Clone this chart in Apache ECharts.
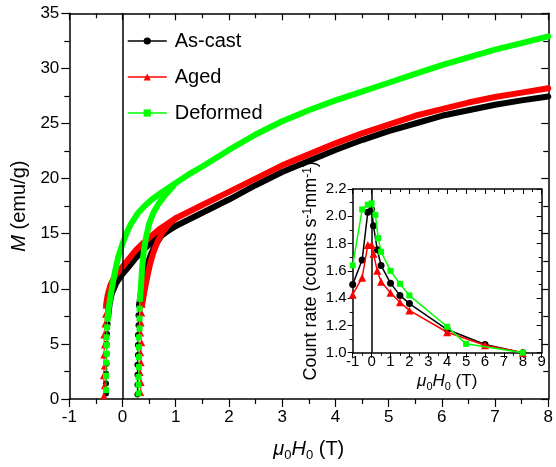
<!DOCTYPE html>
<html>
<head>
<meta charset="utf-8">
<script src="https://cdn.jsdelivr.net/npm/echarts@6/dist/echarts.min.js"></script>
<style>
  html, body { margin: 0; padding: 0; background: #fff; }
  #chart { width: 556px; height: 467px; }
</style>
</head>
<body>
<div id="chart"></div>
<script>
// Magnetisation loops, M (emu/g) vs applied field (T)
// As-cast
const asCastLeftSteep = [[-0.31,0.5],[-0.31,1.4],[-0.31,2.3],[-0.30,3.2],[-0.30,4.1],[-0.30,5.0],[-0.29,5.9],[-0.28,6.8],[-0.27,7.5]];
const asCastUpper = [[-0.27,7.5],[-0.24,8.7],[-0.20,9.6],[-0.12,10.5],[-0.05,11.0],[0,11.35],[0.1,11.9],[0.25,12.8],[0.4,13.6],[0.69,14.76],[1.0,15.7],[1.5,16.9],[2.0,18.1],[2.5,19.4],[3.0,20.6],[3.5,21.6],[4.0,22.6],[4.5,23.5],[5.0,24.3],[5.5,25.0],[6.0,25.7],[6.5,26.2],[7.0,26.7],[7.5,27.1],[8.0,27.45]];
const asCastRightSteep = [[0.28,0.4],[0.28,1.3],[0.28,2.2],[0.28,3.1],[0.29,4.0],[0.29,4.9],[0.29,5.8],[0.30,6.7],[0.30,7.6],[0.31,8.5]];
const asCastRightUpper = [[0.31,8.5],[0.35,9.8],[0.40,11.0],[0.46,12.1],[0.53,13.1],[0.62,14.0],[0.73,14.8],[0.86,15.3],[1.0,15.7]];
// Aged
const agedLeftSteep = [[-0.35,0.3],[-0.34,1.2],[-0.36,2.1],[-0.34,3.0],[-0.35,4.0],[-0.34,4.9],[-0.35,5.8],[-0.33,6.8],[-0.32,7.7],[-0.31,8.5]];
const agedUpper = [[-0.31,8.5],[-0.28,9.4],[-0.23,10.3],[-0.15,11.1],[-0.07,11.6],[0,12.0],[0.1,12.6],[0.25,13.5],[0.4,14.2],[0.69,15.4],[1.0,16.4],[1.5,17.6],[2.0,18.8],[2.5,20.0],[3.0,21.2],[3.5,22.2],[4.0,23.2],[4.5,24.1],[5.0,24.9],[5.5,25.7],[6.0,26.3],[6.5,26.9],[7.0,27.4],[7.5,27.8],[8.0,28.2]];
const agedRightSteep = [[0.34,0.6],[0.35,1.5],[0.33,2.4],[0.35,3.3],[0.34,4.2],[0.36,5.1],[0.34,6.0],[0.35,6.9],[0.36,7.8],[0.37,8.6]];
const agedRightUpper = [[0.37,8.6],[0.42,10.0],[0.47,11.2],[0.52,12.3],[0.58,13.3],[0.66,14.3],[0.76,15.2],[0.88,15.9],[1.0,16.4]];
// Deformed
const deformedLeftSteep = [[-0.31,0.8],[-0.31,2.1],[-0.31,3.3],[-0.30,4.1],[-0.30,4.9],[-0.30,5.6],[-0.29,6.5],[-0.28,7.3]];
const deformedUpper = [[-0.28,7.3],[-0.26,8.2],[-0.23,9.2],[-0.18,10.6],[-0.13,11.8],[-0.08,12.9],[0,14.1],[0.08,15.1],[0.16,15.9],[0.28,16.8],[0.41,17.5],[0.55,18.1],[0.72,18.7],[1.0,19.6],[1.25,20.4],[1.5,21.1],[2.0,22.6],[2.5,24.0],[3.0,25.2],[3.5,26.2],[4.0,27.1],[4.5,27.9],[5.0,28.7],[5.5,29.5],[6.0,30.3],[6.5,31.0],[7.0,31.7],[7.5,32.3],[8.0,32.9]];
const deformedRightSteep = [[0.30,0.5],[0.30,1.3],[0.30,2.0],[0.31,2.9],[0.31,3.8],[0.31,4.7],[0.31,5.6],[0.32,6.4],[0.32,7.3],[0.32,8.2],[0.33,9.1]];
const deformedRightUpper = [[0.33,9.1],[0.35,10.5],[0.37,12.0],[0.40,13.4],[0.44,14.6],[0.50,15.9],[0.58,16.9],[0.69,17.8],[0.80,18.5],[0.95,19.3]];

// Inset: count rate (counts s^-1 mm^-1) vs field (T)
const insetAsCastField = [-1,-0.5,-0.2,0,0.1,0.3,0.5,1,1.5,2,4,6,8];
const insetAsCastRate  = [1.50,1.68,2.03,2.05,1.93,1.755,1.64,1.51,1.42,1.36,1.17,1.06,1.00];
const insetAgedField = [-1,-0.5,-0.2,0,0.1,0.3,0.5,1,1.5,2,4,6,8];
const insetAgedRate  = [1.425,1.55,1.79,1.79,1.725,1.60,1.52,1.44,1.37,1.31,1.15,1.055,1.00];
const insetDeformedField = [-1,-0.5,-0.2,0,0.2,0.35,0.5,1,1.5,2,4,5,8];
const insetDeformedRate  = [1.64,2.05,2.085,2.095,2.01,1.84,1.74,1.60,1.505,1.42,1.19,1.065,1.00];

const sampleNames = ['As-cast', 'Aged', 'Deformed'];
const sampleColors = ['#000000', '#ff0000', '#00ff00'];
const sampleSymbols = ['circle', 'triangle', 'rect'];
const sampleSymbolSizes = [6, 7, 6];
const insetSymbolSizes = [7, 8, 6];

const FONT = "'Liberation Sans', Arial, sans-serif";

const mainSets = [
  [asCastLeftSteep, asCastUpper, asCastRightSteep, asCastRightUpper],
  [agedLeftSteep, agedUpper, agedRightSteep, agedRightUpper],
  [deformedLeftSteep, deformedUpper, deformedRightSteep, deformedRightUpper]
];
const insetSets = [
  [insetAsCastField, insetAsCastRate],
  [insetAgedField, insetAgedRate],
  [insetDeformedField, insetDeformedRate]
];

const zeroLine = {
  silent: true, symbol: 'none', label: { show: false },
  lineStyle: { color: '#000', width: 1.5, type: 'solid' },
  data: [{ xAxis: 0 }]
};

const series = [];
mainSets.forEach((set, i) => {
  const [leftSteep, upper, rightSteep, rightUpper] = set;
  const markerSeries = (data) => ({
    type: 'line', name: sampleNames[i], xAxisIndex: 0, yAxisIndex: 0,
    data: data, symbol: sampleSymbols[i], symbolSize: sampleSymbolSizes[i],
    showAllSymbol: true,
    lineStyle: { color: sampleColors[i], width: 1 },
    itemStyle: { color: sampleColors[i] },
    z: 2 + i
  });
  const bandSeries = (data) => ({
    type: 'line', name: sampleNames[i], xAxisIndex: 0, yAxisIndex: 0,
    data: data, showSymbol: false, symbol: sampleSymbols[i],
    lineStyle: { color: sampleColors[i], width: 6, join: 'round', cap: 'round' },
    itemStyle: { color: sampleColors[i] },
    z: 2 + i
  });
  const s0 = markerSeries(leftSteep);
  if (i === 0) s0.markLine = zeroLine;
  series.push(s0, bandSeries(upper), markerSeries(rightSteep), bandSeries(rightUpper));
});

insetSets.forEach((set, i) => {
  const [field, rate] = set;
  const s = {
    type: 'line', name: sampleNames[i] + ' ', xAxisIndex: 2, yAxisIndex: 2,
    data: field.map((f, k) => [f, rate[k]]),
    symbol: sampleSymbols[i], symbolSize: insetSymbolSizes[i], showAllSymbol: true,
    lineStyle: { color: sampleColors[i], width: 1.5 },
    itemStyle: { color: sampleColors[i] },
    z: 10 + i
  };
  if (i === 0) s.markLine = zeroLine;
  series.push(s);
});

const black = '#000';
function axisBase(opts) {
  return Object.assign({
    type: 'value',
    axisLine: { show: true, onZero: false, lineStyle: { color: black, width: 1.5 } },
    splitLine: { show: false },
    axisLabel: { color: black, fontFamily: FONT },
    axisTick: { show: true, lineStyle: { color: black, width: 1.2 } },
    minorTick: { show: true, splitNumber: 2, lineStyle: { color: black, width: 1.2 } }
  }, opts);
}

// Rich styles for the field label: t = roman, i = italic, s = subscript
const fieldRich = (size) => {
  const small = Math.round(size * 0.65);
  return {
    t: { fontSize: size, fontFamily: FONT, color: black, lineHeight: size, verticalAlign: 'top' },
    i: { fontSize: size, fontFamily: FONT, color: black, fontStyle: 'italic', lineHeight: size, verticalAlign: 'top' },
    s: { fontSize: small, fontFamily: FONT, color: black, lineHeight: Math.round(size * 1.17), verticalAlign: 'bottom' }
  };
};
// Rich styles with superscripts for the count-rate label
const rateRich = (size) => {
  const small = Math.round(size * 0.65);
  return {
    t: { fontSize: size, fontFamily: FONT, color: black },
    sup: { fontSize: small, fontFamily: FONT, color: black, verticalAlign: 'top', lineHeight: small }
  };
};
const magRich = {
  t: { fontSize: 20, fontFamily: FONT, color: black },
  i: { fontSize: 20, fontFamily: FONT, color: black, fontStyle: 'italic' }
};

const chart = echarts.init(document.getElementById('chart'), null, { renderer: 'canvas' });
chart.setOption({
  animation: false,
  backgroundColor: '#fff',
  grid: [
    { left: 69.3, right: 4.3, top: 13.3, bottom: 66.3 },
    { left: 352.7, right: 14.3, top: 189, bottom: 114.3 }
  ],
  legend: {
    data: sampleNames,
    orient: 'vertical', left: 122, top: 26,
    itemWidth: 39, itemHeight: 9, itemGap: 16,
    selectedMode: false,
    lineStyle: { width: 1.5 },
    textStyle: { fontSize: 20, fontFamily: FONT, color: black, padding: [0, 0, 0, 3] }
  },
  xAxis: [
    axisBase({
      gridIndex: 0, position: 'bottom', min: -1, max: 8, interval: 1,
      axisTick: { show: true, inside: false, length: 8, lineStyle: { color: black, width: 1.2 } },
      minorTick: { show: true, splitNumber: 2, length: 5, lineStyle: { color: black, width: 1.2 } },
      axisLabel: { fontSize: 17, fontFamily: FONT, color: black, margin: 10 },
      name: '{i|μ}{s|0}{i|H}{s|0}{t| (T)}', nameLocation: 'middle', nameGap: 40,
      nameTextStyle: { rich: fieldRich(20) }
    }),
    axisBase({
      gridIndex: 0, position: 'top', min: -1, max: 8, interval: 1,
      axisTick: { show: true, inside: true, length: 7, lineStyle: { color: black, width: 1.2 } },
      minorTick: { show: true, splitNumber: 2, length: 5, lineStyle: { color: black, width: 1.2 } },
      axisLabel: { show: false }
    }),
    axisBase({
      gridIndex: 1, position: 'bottom', min: -1, max: 9, interval: 1,
      axisTick: { show: true, inside: false, length: 5, lineStyle: { color: black, width: 1 } },
      minorTick: { show: true, splitNumber: 2, length: 3, lineStyle: { color: black, width: 1 } },
      axisLabel: { fontSize: 15, fontFamily: FONT, color: black, margin: 2 },
      name: '{i|μ}{s|0}{i|H}{s|0}{t| (T)}', nameLocation: 'middle', nameGap: 20,
      nameTextStyle: { rich: fieldRich(17) }
    }),
    axisBase({
      gridIndex: 1, position: 'top', min: -1, max: 9, interval: 1,
      axisTick: { show: true, inside: true, length: 5, lineStyle: { color: black, width: 1 } },
      minorTick: { show: true, splitNumber: 2, length: 3, lineStyle: { color: black, width: 1 } },
      axisLabel: { show: false }
    })
  ],
  yAxis: [
    axisBase({
      gridIndex: 0, position: 'left', min: 0, max: 35, interval: 5,
      axisTick: { show: true, inside: false, length: 8, lineStyle: { color: black, width: 1.2 } },
      minorTick: { show: true, splitNumber: 2, length: 5, lineStyle: { color: black, width: 1.2 } },
      axisLabel: { fontSize: 17, fontFamily: FONT, color: black, margin: 10 },
      name: '{i|M}{t| (emu/g)}', nameLocation: 'middle', nameGap: 40,
      nameTextStyle: { rich: magRich }
    }),
    axisBase({
      gridIndex: 0, position: 'right', min: 0, max: 35, interval: 5,
      axisTick: { show: true, inside: true, length: 7, lineStyle: { color: black, width: 1.2 } },
      minorTick: { show: true, splitNumber: 2, length: 5, lineStyle: { color: black, width: 1.2 } },
      axisLabel: { show: false }
    }),
    axisBase({
      gridIndex: 1, position: 'left', min: 1.0, max: 2.2, interval: 0.2,
      axisTick: { show: true, inside: false, length: 5, lineStyle: { color: black, width: 1 } },
      minorTick: { show: true, splitNumber: 2, length: 3, lineStyle: { color: black, width: 1 } },
      axisLabel: { fontSize: 15, fontFamily: FONT, color: black, margin: 6, formatter: v => v.toFixed(1) },
      name: '{t|Count rate (counts s}{sup|-1}{t|mm}{sup|-1}{t|)}', nameLocation: 'middle', nameGap: 33,
      nameTextStyle: { rich: rateRich(18) }
    }),
    axisBase({
      gridIndex: 1, position: 'right', min: 1.0, max: 2.2, interval: 0.2,
      axisTick: { show: true, inside: true, length: 5, lineStyle: { color: black, width: 1 } },
      minorTick: { show: true, splitNumber: 2, length: 3, lineStyle: { color: black, width: 1 } },
      axisLabel: { show: false }
    })
  ],
  series: series
});
</script>
</body>
</html>
